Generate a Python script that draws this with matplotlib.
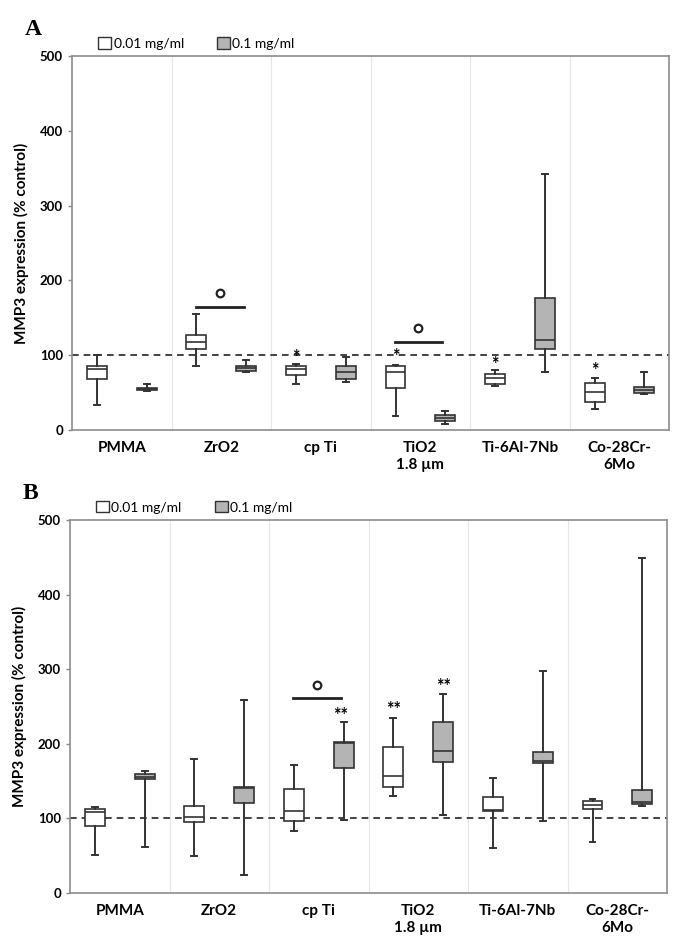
import matplotlib.pyplot as plt
from matplotlib.patches import Patch

plt.rcParams['font.family'] = ['Lato', 'DejaVu Sans']

categories = ["PMMA", "ZrO2", "cp Ti", "TiO2\n1.8 µm", "Ti-6Al-7Nb", "Co-28Cr-\n6Mo"]
doses = ["0.01 mg/ml", "0.1 mg/ml"]

# each box: [whisker low, q1, median, q3, whisker high]
a_low = [[34, 68, 82, 86, 100], [86, 108, 118, 127, 155], [62, 74, 82, 86, 88],
         [19, 56, 78, 86, 87], [59, 61, 69, 75, 80], [28, 38, 51, 63, 70]]
a_high = [[52, 53.5, 55, 56.5, 62], [78, 79, 83, 86, 94], [64, 68, 77, 86, 98],
          [8, 12, 16, 20, 25], [78, 108, 120, 176, 342], [48, 49.5, 53.5, 57.5, 78]]
b_low = [[51, 90, 108, 113, 115], [50, 95, 102, 117, 179], [83, 96, 110, 140, 172],
         [130, 142, 157, 196, 235], [61, 110, 111, 129, 154], [69, 112, 118, 124, 126]]
b_high = [[62, 153, 156, 160, 164], [24, 121, 141, 142, 259], [98, 168, 201, 203, 229],
          [104, 176, 191, 229, 267], [96, 174, 177, 189, 298], [116, 119, 122, 138, 449]]

# significance marks: (x position, y value, text)
a_stars = [(2.25, 101, "*"), (3.25, 102, "*"), (4.25, 91, "*"), (5.25, 84, "*")]
a_bars = [(1.25, 1.73, 165), (3.24, 3.72, 118)]
b_stars = [(2.72, 242, "**"), (3.25, 250, "**"), (3.75, 281, "**")]
b_bars = [(2.24, 2.72, 261)]

fill_colors = ["white", "#b4b4b4"]
edge = "#333333"


def to_stats(rows):
    return [dict(whislo=r[0], q1=r[1], med=r[2], q3=r[3], whishi=r[4], fliers=[]) for r in rows]


def draw_panel(ax, low, high, stars, bars, letter):
    for k, data in enumerate([low, high]):
        pos = [i + 0.25 + 0.5 * k for i in range(len(categories))]
        ax.bxp(to_stats(data), positions=pos, widths=0.2, patch_artist=True,
               capwidths=0.06, showfliers=False,
               boxprops=dict(facecolor=fill_colors[k], edgecolor=edge, linewidth=1.2),
               whiskerprops=dict(color=edge, linewidth=1.4),
               capprops=dict(color=edge, linewidth=1.4),
               medianprops=dict(color=edge, linewidth=1.2))
    ax.axhline(100, color="#222222", linestyle=(0, (4, 3)), linewidth=1.2, zorder=0.5)
    for x in range(1, len(categories)):
        ax.axvline(x, color="#e6e6e6", linewidth=0.8, zorder=0)
    for x, y, t in stars:
        ax.text(x, y - 4, t, ha="center", va="center", fontsize=13, fontweight="bold")
    for x0, x1, y in bars:
        ax.plot([x0, x1], [y, y], color="#222222", linewidth=2)
        ax.plot((x0 + x1) / 2, y + 18, marker="o", markersize=5.5, markerfacecolor="white",
                markeredgecolor="#222222", markeredgewidth=1.6)
    ax.set_xlim(0, len(categories))
    ax.set_ylim(0, 500)
    ax.set_yticks(range(0, 501, 100))
    ax.set_xticks([i + 0.5 for i in range(len(categories))])
    ax.set_xticklabels(categories, fontsize=11, fontweight="bold", linespacing=1.3)
    ax.tick_params(axis="x", length=0, pad=8)
    ax.tick_params(axis="y", labelsize=9.5, length=3, color="#888888", width=1)
    for lab in ax.get_yticklabels():
        lab.set_fontweight("bold")
    for s in ax.spines.values():
        s.set_color("#8c8c8c")
        s.set_linewidth(1.2)
    ax.set_ylabel("MMP3 expression (% control)", fontsize=11, fontweight="bold", labelpad=8)
    handles = [Patch(facecolor=fill_colors[k], edgecolor=edge, linewidth=1) for k in range(2)]
    ax.legend(handles, doses, loc="lower left", bbox_to_anchor=(0.03, 0.995), ncol=2,
              frameon=False, fontsize=10, handlelength=0.9, handleheight=0.9,
              handletextpad=0.2, columnspacing=2.4, borderaxespad=0.2)
    ax.text(-0.079, 1.07, letter, transform=ax.transAxes, fontsize=17, fontweight="bold",
            family="Liberation Serif", ha="left", va="center")


fig = plt.figure(figsize=(6.88, 9.42), dpi=100)
ax_a = fig.add_axes([0.1047, 0.5435, 0.868, 0.397])
ax_b = fig.add_axes([0.1017, 0.052, 0.868, 0.396])
draw_panel(ax_a, a_low, a_high, a_stars, a_bars, "A")
draw_panel(ax_b, b_low, b_high, b_stars, b_bars, "B")
fig.savefig("out.png", dpi=100)
